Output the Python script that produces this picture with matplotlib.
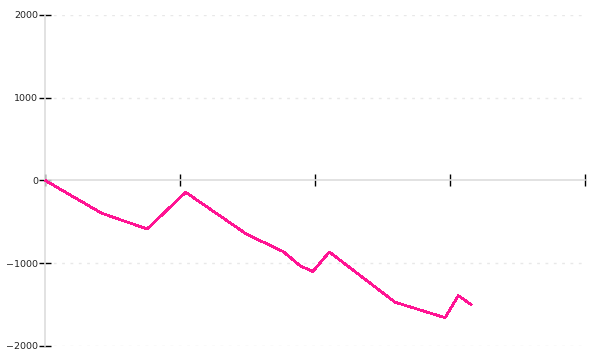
import matplotlib
matplotlib.use("Agg")
import matplotlib.pyplot as plt

# data
x_vals = [0.0, 0.42, 0.757, 1.042, 1.494, 1.765, 1.889, 1.983, 2.106, 2.593, 2.963, 3.061, 3.161]
y_vals = [0, -398, -588, -144, -652, -862, -1032, -1104, -866, -1474, -1661, -1395, -1507]
y_ticks = [-2000, -1000, 0, 1000, 2000]
x_ticks = [0, 1, 2, 3, 4]

fig = plt.figure(figsize=(6, 3.6), dpi=100)
ax = fig.add_axes([45 / 600, 14.3 / 360, 540 / 600, 330.7 / 360])

ax.plot(x_vals, y_vals, color="#ff1493", lw=1.25, antialiased=False, zorder=3,
        solid_joinstyle="round", solid_capstyle="butt", clip_on=False)

ax.set_xlim(0, 4)
ax.set_ylim(-2000, 2000)
ax.set_yticks(y_ticks)
ax.set_yticklabels([("\u2212" + str(-v)) if v < 0 else str(v) for v in y_ticks])
ax.set_xticks(x_ticks)
ax.set_xticklabels([])

for s in ["top", "right"]:
    ax.spines[s].set_visible(False)
ax.spines["left"].set_color("#dddddd")
ax.spines["left"].set_linewidth(1.2)
ax.spines["bottom"].set_position(("data", 0))
ax.spines["bottom"].set_color("#dddddd")
ax.spines["bottom"].set_linewidth(1.2)

ax.tick_params(axis="y", direction="inout", length=8, width=1, color="black",
               labelsize=6.8, pad=1, labelcolor="#222222")
ax.tick_params(axis="x", direction="inout", length=8, width=1, color="black")

ax.yaxis.grid(True, color="#e8e8e8", linestyle=(0, (2, 4)), linewidth=1)
for gl, v in zip(ax.yaxis.get_gridlines(), y_ticks):
    if v == 0:
        gl.set_visible(False)
ax.set_axisbelow(True)

fig.savefig("out.png", dpi=100)
